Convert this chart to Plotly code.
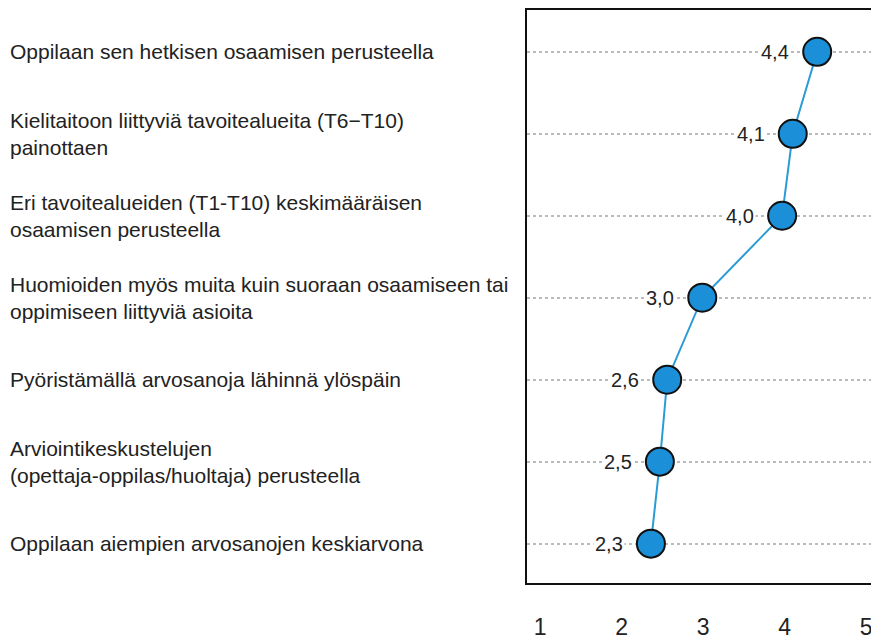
import plotly.graph_objects as go

categories = [
    "Oppilaan sen hetkisen osaamisen perusteella",
    "Kielitaitoon liittyviä tavoitealueita (T6−T10)<br>painottaen",
    "Eri tavoitealueiden (T1-T10) keskimääräisen<br>osaamisen perusteella",
    "Huomioiden myös muita kuin suoraan osaamiseen tai<br>oppimiseen liittyviä asioita",
    "Pyöristämällä arvosanoja lähinnä ylöspäin",
    "Arviointikeskustelujen<br>(opettaja-oppilas/huoltaja) perusteella",
    "Oppilaan aiempien arvosanojen keskiarvona",
]
values = [4.40, 4.10, 3.97, 2.99, 2.56, 2.47, 2.36]
value_labels = ["4,4", "4,1", "4,0", "3,0", "2,6", "2,5", "2,3"]
x_ticks = [1, 2, 3, 4, 5]

n = len(categories)
ypos = [n - 1 - i for i in range(n)]

W, H = 871, 639
ML, MR, MT, MB = 527, 0, 10, 56
plot_w = W - ML - MR

FONT = "Liberation Sans, Arial, sans-serif"

fig = go.Figure()
fig.add_trace(go.Scatter(
    x=values, y=ypos, mode="lines+markers",
    line=dict(color="#2b9bd6", width=2),
    marker=dict(size=28, color="#1b8fd8", line=dict(color="#111111", width=2)),
    hoverinfo="skip", showlegend=False, cliponaxis=False,
))

annotations = []
for v, y, lab in zip(values, ypos, value_labels):
    annotations.append(dict(
        x=v, y=y, xref="x", yref="y", text=lab, showarrow=False,
        xanchor="right", yanchor="middle", xshift=-26,
        font=dict(family=FONT, size=20, color="#222222"),
        bgcolor="white", borderpad=1,
    ))
for c, y in zip(categories, ypos):
    annotations.append(dict(
        x=(8 - ML) / plot_w, y=y, xref="paper", yref="y", text=c, showarrow=False,
        xanchor="left", yanchor="middle", align="left",
        font=dict(family=FONT, size=21, color="#222222"),
    ))

fig.update_layout(
    width=W, height=H,
    margin=dict(l=ML, r=MR, t=MT, b=MB, autoexpand=False),
    paper_bgcolor="white", plot_bgcolor="white",
    annotations=annotations,
    font=dict(family=FONT, color="#222222"),
)
fig.update_xaxes(
    range=[0.84, 5.06], tickvals=x_ticks, ticktext=[str(t) for t in x_ticks],
    showgrid=False, zeroline=False, automargin=False,
    showline=True, linecolor="#111111", linewidth=2, mirror=True,
    ticks="", ticklabelstandoff=22, ticklabeloverflow="allow",
    tickfont=dict(size=23, color="#222222"),
)
fig.update_yaxes(
    range=[-0.48, 6.51], tickvals=ypos, showticklabels=False, automargin=False,
    showgrid=True, gridcolor="#bbbbbb", gridwidth=1.5, griddash="dot",
    zeroline=False, showline=True, linecolor="#111111", linewidth=2, mirror=True,
)

fig.write_html(
    "out.html",
    config={"displayModeBar": False},
    post_script="document.body.style.margin='0';document.body.style.overflow='hidden';",
)
